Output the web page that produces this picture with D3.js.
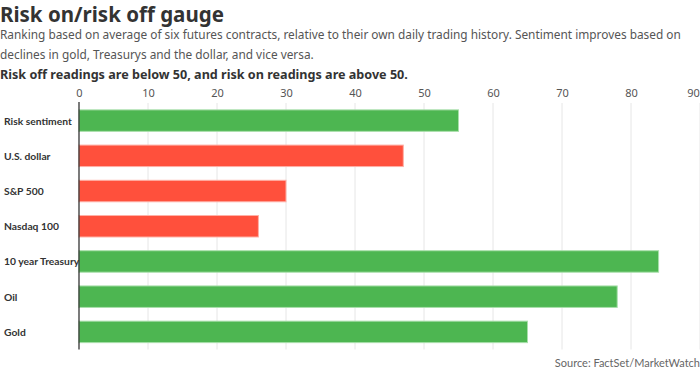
<!DOCTYPE html>
<html>
<head>
<meta charset="utf-8">
<script src="https://cdn.jsdelivr.net/npm/d3@7"></script>
<style>
  html, body { margin: 0; padding: 0; background: #fff; }
  svg { display: block; }
</style>
</head>
<body>
<svg id="chart" width="700" height="376"></svg>
<script>
const categories = ["Risk sentiment", "U.S. dollar", "S&P 500", "Nasdaq 100", "10 year Treasury", "Oil", "Gold"];
const values = [55, 47, 30, 26, 84, 78, 65];
const riskOn = [true, false, false, false, true, true, true];
const tickValues = [0, 10, 20, 30, 40, 50, 60, 70, 80, 90];

const title = "Risk on/risk off gauge";
const subtitleLines = [
  "Ranking based on average of six futures contracts, relative to their own daily trading history. Sentiment improves based on",
  "declines in gold, Treasurys and the dollar, and vice versa."
];
const note = "Risk off readings are below 50, and risk on readings are above 50.";
const source = "Source: FactSet/MarketWatch";

const svg = d3.select("#chart");
const headFont = "'Noto Sans', 'Open Sans', sans-serif";
const bodyFont = "Lato, sans-serif";

const x = d3.scaleLinear().domain([0, 90]).range([79, 700]);
const y = d3.scaleBand().domain(categories).range([103, 349.5]).paddingInner(0.39).paddingOuter(0.195);

svg.append("text").attr("x", 0).attr("y", 21.5)
  .style("font-family", headFont).style("font-weight", 700).style("font-size", "20.5px")
  .attr("fill", "#333").text(title);

svg.selectAll("text.sub").data(subtitleLines).enter().append("text")
  .attr("class", "sub").attr("x", 0).attr("y", (d, i) => 39 + i * 19.5)
  .style("font-family", headFont).style("font-size", "11.85px")
  .attr("fill", "#555").text(d => d);

svg.append("text").attr("x", 0).attr("y", 79)
  .style("font-family", headFont).style("font-weight", 700).style("font-size", "12.6px")
  .attr("fill", "#333").text(note);

// gridlines
svg.append("g").selectAll("line").data(tickValues.filter(d => d > 0)).enter().append("line")
  .attr("x1", d => x(d)).attr("x2", d => x(d))
  .attr("y1", 103).attr("y2", 349.5)
  .attr("stroke", "#e6e6e6").attr("stroke-width", 1);

// top axis tick labels
const xAxis = svg.append("g").attr("transform", "translate(0,103)")
  .call(d3.axisTop(x).tickValues(tickValues).tickSize(0).tickPadding(6));
xAxis.select(".domain").remove();
xAxis.selectAll("text")
  .style("font-family", headFont).style("font-size", "11px").attr("fill", "#555")
  .attr("x", d => d === 90 ? -7 : 0);

// bars
svg.append("g").selectAll("rect").data(categories).enter().append("rect")
  .attr("x", x(0))
  .attr("y", d => y(d))
  .attr("width", (d, i) => x(values[i]) - x(0))
  .attr("height", y.bandwidth())
  .attr("fill", (d, i) => riskOn[i] ? "#4db651" : "#ff503c")
  .attr("stroke", (d, i) => riskOn[i] ? "#a9dfab" : "#ffb0a6")
  .attr("stroke-width", 1);

// left axis line
svg.append("line").attr("x1", x(0)).attr("x2", x(0)).attr("y1", 102).attr("y2", 349.5)
  .attr("stroke", "#222").attr("stroke-width", 1.2);

// category labels
svg.append("g").selectAll("text").data(categories).enter().append("text")
  .attr("x", 4).attr("y", d => y(d) + y.bandwidth() / 2 + 4)
  .style("font-family", bodyFont).style("font-weight", 700).style("font-size", "10.3px")
  .attr("fill", "#333").text(d => d);

svg.append("text").attr("x", 700).attr("y", 367).attr("text-anchor", "end")
  .style("font-family", bodyFont).style("font-size", "11px")
  .attr("fill", "#666").text(source);
</script>
</body>
</html>
